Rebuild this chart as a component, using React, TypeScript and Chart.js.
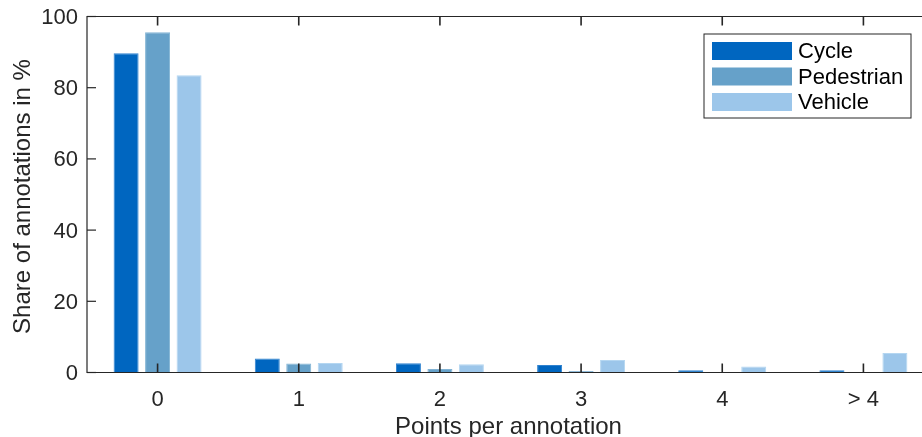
import React, { useEffect, useRef } from "react";
import { Chart, registerables } from "chart.js";

Chart.register(...registerables);

const categories = ["0", "1", "2", "3", "4", "> 4"];
const cycleValues = [89.7, 3.9, 2.6, 2.1, 0.65, 0.65];
const pedestrianValues = [95.6, 2.5, 1.0, 0.45, 0, 0];
const vehicleValues = [83.5, 2.7, 2.3, 3.5, 1.7, 5.5];
const yTicks = [0, 20, 40, 60, 80, 100];
const seriesNames = ["Cycle", "Pedestrian", "Vehicle"];
const seriesColors = ["#0066C0", "#66A1C9", "#9CC6EA"];
const seriesEdges = ["#2f82cf", "#82b3d4", "#b4d6f1"];
const xTitle = "Points per annotation";
const yTitle = "Share of annotations in %";

const AXIS = "#262626";
const FONT = '22px "Liberation Sans", Arial, sans-serif';
const TITLE_FONT = '24px "Liberation Sans", Arial, sans-serif';

const framePlugin = {
  id: "matlabFrame",
  afterDatasetsDraw(chart: any) {
    const { ctx, chartArea: a, scales } = chart;
    const xs = scales.x;
    const ys = scales.y;
    ctx.save();
    ctx.strokeStyle = AXIS;
    ctx.lineWidth = 1.2;
    ctx.beginPath();
    ctx.moveTo(a.right + 5, a.top);
    ctx.lineTo(a.left, a.top);
    ctx.lineTo(a.left, a.bottom);
    ctx.lineTo(a.right + 5, a.bottom);
    ctx.stroke();

    ctx.font = FONT;
    ctx.fillStyle = AXIS;
    // y ticks
    ctx.textAlign = "right";
    ctx.textBaseline = "middle";
    yTicks.forEach((v) => {
      const py = ys.getPixelForValue(v);
      ctx.beginPath();
      ctx.moveTo(a.left, py);
      ctx.lineTo(a.left + 9, py);
      ctx.stroke();
      ctx.fillText(String(v), a.left - 9, py + 1.5);
    });
    // x ticks
    ctx.textAlign = "center";
    ctx.textBaseline = "alphabetic";
    ctx.lineWidth = 1.6;
    categories.forEach((c, i) => {
      const px = xs.getPixelForValue(i);
      ctx.beginPath();
      ctx.moveTo(px, a.bottom);
      ctx.lineTo(px, a.bottom - 9);
      ctx.moveTo(px, a.top);
      ctx.lineTo(px, a.top + 9);
      ctx.stroke();
      ctx.fillText(c, px, a.bottom + 33);
    });
    // titles
    ctx.font = TITLE_FONT;
    ctx.fillText(xTitle, (a.left + a.right) / 2 - 2, a.bottom + 61.5);
    ctx.save();
    ctx.translate(29.5, (a.top + a.bottom) / 2 + 2);
    ctx.rotate(-Math.PI / 2);
    ctx.fillText(yTitle, 0, 0);
    ctx.restore();

    // legend
    ctx.font = FONT;
    const bx = a.right - 230;
    const by = a.top + 17.5;
    const bw = 207;
    const bh = 84;
    ctx.fillStyle = "#ffffff";
    ctx.fillRect(bx, by, bw, bh);
    ctx.strokeStyle = AXIS;
    ctx.lineWidth = 1;
    ctx.strokeRect(bx, by, bw, bh);
    ctx.textAlign = "left";
    ctx.textBaseline = "middle";
    chart.data.datasets.forEach((ds: any, i: number) => {
      const cy = by + 17 + i * 25.5;
      ctx.fillStyle = ds.backgroundColor;
      ctx.fillRect(bx + 8, cy - 9, 80, 18);
      ctx.fillStyle = "#000000";
      ctx.fillText(ds.label, bx + 94, cy + 1);
    });
    ctx.restore();
  },
};

export default function App() {
  const ref = useRef<HTMLCanvasElement | null>(null);
  useEffect(() => {
    document.documentElement.style.overflow = "hidden";
    document.body.style.margin = "0";
    const canvas = ref.current;
    if (!canvas) return;
    const values = [cycleValues, pedestrianValues, vehicleValues];
    const chart = new Chart(canvas, {
      type: "bar",
      data: {
        labels: categories,
        datasets: seriesNames.map((name, i) => ({
          label: name,
          data: values[i],
          backgroundColor: seriesColors[i],
          borderColor: seriesEdges[i],
          borderWidth: 1,
          borderSkipped: "start",
          categoryPercentage: 0.669,
          barPercentage: 0.794,
        })),
      },
      plugins: [framePlugin],
      options: {
        responsive: false,
        animation: false,
        devicePixelRatio: 1,
        layout: { padding: { left: 87, right: 6, top: 16.5, bottom: 64.5 } },
        plugins: { legend: { display: false }, tooltip: { enabled: false } },
        scales: {
          x: { display: false, offset: true, grid: { display: false } },
          y: { display: false, min: 0, max: 100, grid: { display: false } },
        },
      },
    });
    return () => chart.destroy();
  }, []);
  return (
    <div style={{ position: "fixed", left: 0, top: 0, width: 940, height: 437, background: "#fff" }}>
      <canvas ref={ref} width={940} height={437} style={{ width: 940, height: 437, display: "block" }} />
    </div>
  );
}
